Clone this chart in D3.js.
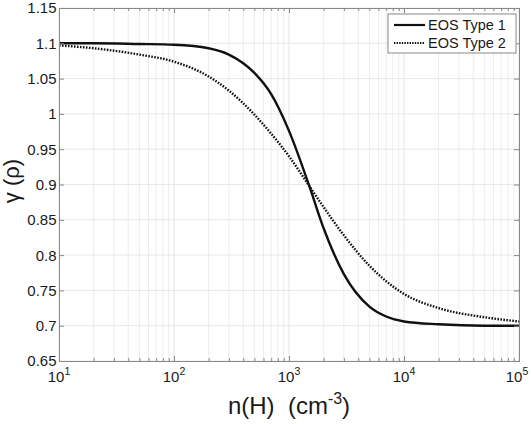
<!DOCTYPE html>
<html>
<head>
<meta charset="utf-8">
<style>
  body { margin: 0; background: #fff; }
  text { font-family: Arial, "Liberation Sans", sans-serif; fill: #1a1a1a; }
</style>
</head>
<body>
<div id="chart"></div>
<script src="https://d3js.org/d3.v7.min.js"></script>
<script>
// density n(H) in cm^-3
const density = [10, 20, 50, 100, 200, 300, 500, 700, 1000, 1500, 2000, 3000, 5000, 7000, 10000, 20000, 50000, 100000];
// gamma values
const eosType1 = [1.100, 1.100, 1.099, 1.098, 1.093, 1.084, 1.058, 1.028, 0.976, 0.898, 0.838, 0.773, 0.727, 0.713, 0.706, 0.702, 0.700, 0.700];
const eosType2 = [1.097, 1.093, 1.084, 1.074, 1.053, 1.033, 0.999, 0.972, 0.940, 0.898, 0.868, 0.828, 0.785, 0.763, 0.745, 0.725, 0.712, 0.706];
const seriesNames = ["EOS Type 1", "EOS Type 2"];
const yTicks = [0.65, 0.7, 0.75, 0.8, 0.85, 0.9, 0.95, 1, 1.05, 1.1, 1.15];
const xDecades = [1, 2, 3, 4, 5];

const width = 531, height = 424;
const margin = { top: 8, right: 12, bottom: 63, left: 59 };
const w = width - margin.left - margin.right;
const h = height - margin.top - margin.bottom;

const svg = d3.select("#chart").append("svg")
    .attr("width", width)
    .attr("height", height);

const g = svg.append("g")
    .attr("transform", `translate(${margin.left}, ${margin.top})`);

const xScale = d3.scaleLog().domain([10, 100000]).range([0, w]);
const yScale = d3.scaleLinear().domain([0.65, 1.15]).range([h, 0]);

// minor / major x positions
const minorX = [];
xDecades.slice(0, -1).forEach(p => {
  for (let k = 2; k <= 9; k++) minorX.push(k * Math.pow(10, p));
});
const majorX = xDecades.map(p => Math.pow(10, p));

// grid
g.selectAll(".minor-grid").data(minorX).enter().append("line")
    .attr("x1", d => xScale(d)).attr("x2", d => xScale(d))
    .attr("y1", 0).attr("y2", h)
    .attr("stroke", "#ededed").attr("stroke-width", 1);
g.selectAll(".major-xgrid").data(majorX).enter().append("line")
    .attr("x1", d => xScale(d)).attr("x2", d => xScale(d))
    .attr("y1", 0).attr("y2", h)
    .attr("stroke", "#e4e4e4").attr("stroke-width", 1);
g.selectAll(".major-ygrid").data(yTicks).enter().append("line")
    .attr("x1", 0).attr("x2", w)
    .attr("y1", d => yScale(d)).attr("y2", d => yScale(d))
    .attr("stroke", "#e8e8e8").attr("stroke-width", 1);

// curves
const line = d3.line()
    .x(d => xScale(d[0]))
    .y(d => yScale(d[1]))
    .curve(d3.curveMonotoneX);

g.append("path")
    .datum(density.map((n, i) => [n, eosType2[i]]))
    .attr("d", line)
    .attr("fill", "none")
    .attr("stroke", "#111")
    .attr("stroke-width", 2.4)
    .attr("stroke-dasharray", "1.6,1.4");

g.append("path")
    .datum(density.map((n, i) => [n, eosType1[i]]))
    .attr("d", line)
    .attr("fill", "none")
    .attr("stroke", "#111")
    .attr("stroke-width", 2.4);

// axes (ticks inward), box on all sides
const tickColor = "#888";
const xAxis = d3.axisBottom(xScale).tickValues(majorX).tickSize(-5).tickFormat("");
const xAxisMinor = d3.axisBottom(xScale).tickValues(minorX).tickSize(-3).tickFormat("");
const yAxis = d3.axisLeft(yScale).tickValues(yTicks).tickSize(-5).tickFormat("");

function styleAxis(sel) {
  sel.selectAll("path").attr("stroke", tickColor);
  sel.selectAll("line").attr("stroke", tickColor);
}

g.append("g").attr("transform", `translate(0, ${h})`).call(xAxis).call(styleAxis);
g.append("g").attr("transform", `translate(0, ${h})`).call(xAxisMinor).call(styleAxis);
g.append("g").call(d3.axisTop(xScale).tickValues(majorX).tickSize(-5).tickFormat("")).call(styleAxis);
g.append("g").call(d3.axisTop(xScale).tickValues(minorX).tickSize(-3).tickFormat("")).call(styleAxis);
g.append("g").call(yAxis).call(styleAxis);
g.append("g").attr("transform", `translate(${w}, 0)`)
    .call(d3.axisRight(yScale).tickValues(yTicks).tickSize(-5).tickFormat("")).call(styleAxis);

// y tick labels
g.selectAll(".ylab").data(yTicks).enter().append("text")
    .attr("x", -2.5)
    .attr("y", d => yScale(d))
    .attr("dy", "0.36em")
    .attr("text-anchor", "end")
    .style("font-size", "15px")
    .text(d => d3.format("")(+d.toFixed(2)));

// x tick labels with superscript
const xl = g.selectAll(".xlab").data(xDecades).enter().append("text")
    .attr("x", d => xScale(Math.pow(10, d)) - (d === 5 ? 2 : 0))
    .attr("y", h + 21)
    .attr("text-anchor", "middle")
    .style("font-size", "15px");
xl.append("tspan").text("10");
xl.append("tspan").attr("dy", -7).style("font-size", "10.5px").text(d => d);

// axis titles
const xt = svg.append("text")
    .attr("x", 289)
    .attr("y", 414)
    .attr("text-anchor", "middle")
    .attr("xml:space", "preserve")
    .style("white-space", "pre")
    .style("font-size", "24px");
xt.append("tspan").text("n(H)  (cm");
xt.append("tspan").attr("dy", -10).style("font-size", "16px").text("-3");
xt.append("tspan").attr("dy", 10).text(")");

svg.append("text")
    .attr("transform", "translate(19, 181) rotate(-90)")
    .attr("text-anchor", "middle")
    .style("font-size", "22px")
    .text("γ (ρ)");

// legend
const legend = svg.append("g").attr("transform", "translate(388, 14)");
legend.append("rect")
    .attr("width", 128).attr("height", 39)
    .attr("fill", "#fff").attr("stroke", tickColor);
seriesNames.forEach((name, i) => {
  const yy = 11 + i * 18;
  legend.append("line")
      .attr("x1", 6).attr("x2", 37)
      .attr("y1", yy).attr("y2", yy)
      .attr("stroke", "#111")
      .attr("stroke-width", i === 0 ? 2.2 : 1.8)
      .attr("stroke-dasharray", i === 0 ? null : "1.4,1.2");
  legend.append("text")
      .attr("x", 40).attr("y", yy)
      .attr("dy", "0.36em")
      .style("font-size", "14.5px")
      .text(name);
});
</script>
</body>
</html>
